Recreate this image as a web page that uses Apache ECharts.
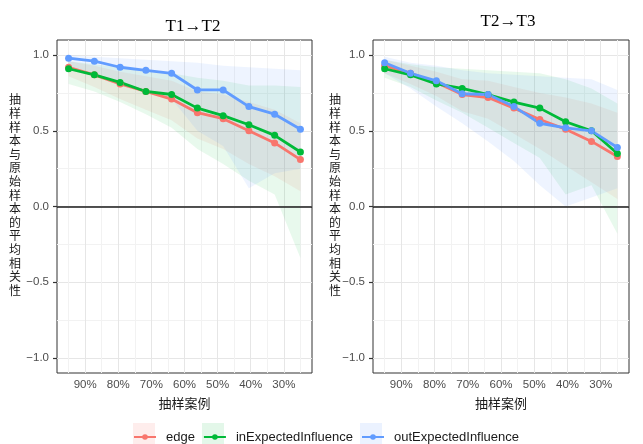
<!DOCTYPE html>
<html>
<head>
<meta charset="utf-8">
<script src="https://cdn.jsdelivr.net/npm/echarts@6/dist/echarts.min.js"></script>
<style>
html, body { margin: 0; padding: 0; background: #fff; }
#chart { width: 643px; height: 444px; }
</style>
</head>
<body>
<div id="chart"></div>
<script>
// sampled share of cases (x), in percent
const sampledPct = [95, 87.22, 79.44, 71.67, 63.89, 56.11, 48.33, 40.56, 32.78, 25];
const pctTicks = [90, 80, 70, 60, 50, 40, 30];
const pctMinor = [95, 85, 75, 65, 55, 45, 35, 25];
const corTicks = [-1, -0.5, 0, 0.5, 1];
const corMinor = [-0.75, -0.25, 0.25, 0.75];
const panelTitles = ['T1\u2192T2', 'T2\u2192T3'];
const xTitle = '抽样案例';
const yTitle = '抽样样本与原始样本的平均相关性';
const seriesNames = ['edge', 'inExpectedInfluence', 'outExpectedInfluence'];

// T1 -> T2
const edge1 = [0.92, 0.87, 0.81, 0.76, 0.71, 0.62, 0.58, 0.50, 0.42, 0.31];
const in1 = [0.91, 0.87, 0.82, 0.76, 0.74, 0.65, 0.60, 0.54, 0.47, 0.36];
const out1 = [0.98, 0.96, 0.92, 0.90, 0.88, 0.77, 0.77, 0.66, 0.61, 0.51];
const edge1Lo = [0.86, 0.79, 0.71, 0.64, 0.57, 0.45, 0.38, 0.28, 0.20, 0.10];
const edge1Hi = [0.96, 0.93, 0.89, 0.86, 0.83, 0.76, 0.74, 0.69, 0.64, 0.55];
const in1Lo = [0.81, 0.76, 0.69, 0.61, 0.52, 0.38, 0.28, 0.17, 0.08, -0.34];
const in1Hi = [0.96, 0.94, 0.92, 0.89, 0.88, 0.85, 0.83, 0.80, 0.80, 0.79];
const out1Lo = [0.93, 0.88, 0.82, 0.76, 0.71, 0.50, 0.40, 0.12, 0.22, 0.25];
const out1Hi = [1.00, 0.99, 0.98, 0.97, 0.96, 0.95, 0.93, 0.92, 0.91, 0.90];

// T2 -> T3
const edge2 = [0.93, 0.88, 0.82, 0.74, 0.72, 0.65, 0.575, 0.51, 0.43, 0.33];
const in2 = [0.91, 0.87, 0.81, 0.78, 0.74, 0.69, 0.65, 0.56, 0.50, 0.35];
const out2 = [0.95, 0.88, 0.83, 0.745, 0.74, 0.66, 0.55, 0.52, 0.50, 0.39];
const edge2Lo = [0.88, 0.81, 0.73, 0.63, 0.58, 0.48, 0.38, 0.27, 0.16, 0.05];
const edge2Hi = [0.97, 0.93, 0.89, 0.84, 0.83, 0.79, 0.75, 0.72, 0.68, 0.62];
const in2Lo = [0.85, 0.79, 0.70, 0.62, 0.52, 0.42, 0.32, 0.08, 0.14, -0.18];
const in2Hi = [0.97, 0.94, 0.92, 0.91, 0.90, 0.89, 0.88, 0.84, 0.78, 0.68];
const out2Lo = [0.88, 0.78, 0.66, 0.55, 0.43, 0.30, 0.14, 0.00, 0.06, 0.12];
const out2Hi = [0.99, 0.95, 0.93, 0.90, 0.88, 0.87, 0.86, 0.85, 0.84, 0.77];

const colors = ['#F8766D', '#00BA38', '#619CFF'];
const bandColors = ['rgba(248,118,109,0.11)', 'rgba(0,186,56,0.09)', 'rgba(97,156,255,0.11)'];
const sans = 'Liberation Sans, Arial, sans-serif';
const cjk = 'Noto Sans CJK SC, sans-serif';
const serif = 'Liberation Serif, Times New Roman, serif';

const chart = echarts.init(document.getElementById('chart'));

function ribbon(lo, hi, k, gi) {
  return {
    type: 'custom',
    xAxisIndex: gi * 2,
    yAxisIndex: gi * 2,
    silent: true,
    z: 1,
    data: [[sampledPct[0], hi[0]]],
    renderItem(params, api) {
      const top = sampledPct.map((x, i) => api.coord([x, hi[i]]));
      const bottom = sampledPct.map((x, i) => api.coord([x, lo[i]])).reverse();
      return {
        type: 'polygon',
        shape: { points: top.concat(bottom) },
        style: { fill: bandColors[k] }
      };
    }
  };
}

function line(vals, k, gi) {
  const s = {
    name: seriesNames[k],
    type: 'line',
    xAxisIndex: gi * 2,
    yAxisIndex: gi * 2,
    z: 3,
    data: sampledPct.map((x, i) => [x, vals[i]]),
    symbol: 'circle',
    symbolSize: 7,
    lineStyle: { width: 2.8, color: colors[k] },
    itemStyle: { color: colors[k] },
    emphasis: { disabled: true }
  };
  if (k === 0) {
    s.markLine = {
      silent: true,
      symbol: 'none',
      label: { show: false },
      lineStyle: { color: '#1a1a1a', width: 1.6, type: 'solid' },
      data: [{ yAxis: 0 }]
    };
  }
  return s;
}

function xAxes(gi) {
  return [{
    type: 'value', gridIndex: gi, min: 21.5, max: 98.5, inverse: true,
    axisLine: { show: false },
    axisTick: { show: false, customValues: pctTicks },
    axisLabel: {
      customValues: pctTicks, formatter: v => v + '%',
      color: '#4d4d4d', fontSize: 11.5, margin: 6, fontFamily: sans
    },
    splitLine: { show: true, lineStyle: { color: '#e6e6e6', width: 1 } },
    name: xTitle, nameLocation: 'middle', nameGap: 24,
    nameTextStyle: { color: '#1a1a1a', fontSize: 13, fontFamily: cjk }
  }, {
    type: 'value', gridIndex: gi, min: 21.5, max: 98.5, inverse: true,
    axisLine: { show: false },
    axisTick: { show: false, customValues: pctMinor },
    axisLabel: { show: false },
    splitLine: { show: true, lineStyle: { color: '#f2f2f2', width: 1 } }
  }];
}

function yAxes(gi) {
  return [{
    type: 'value', gridIndex: gi, min: -1.1, max: 1.1,
    axisLine: { show: false },
    axisTick: { show: true, length: 4, customValues: corTicks, lineStyle: { color: '#333', width: 1.2 } },
    axisLabel: {
      customValues: corTicks,
      formatter: v => (v < 0 ? '\u2212' : '') + Math.abs(v).toFixed(1),
      color: '#4d4d4d', fontSize: 11.5, margin: 8, fontFamily: sans
    },
    splitLine: { show: true, lineStyle: { color: '#e6e6e6', width: 1 } }
  }, {
    type: 'value', gridIndex: gi, min: -1.1, max: 1.1,
    axisLine: { show: false },
    axisTick: { show: false, customValues: corMinor },
    axisLabel: { show: false },
    splitLine: { show: true, lineStyle: { color: '#f2f2f2', width: 1 } }
  }];
}

// vertical (stacked) y-axis titles
function yTitleText(x) {
  return {
    type: 'text', x: x, y: 195, silent: true,
    style: {
      text: yTitle.split('').join('\n'),
      font: '12px ' + cjk, lineHeight: 13.6,
      fill: '#1a1a1a', align: 'center', verticalAlign: 'middle'
    }
  };
}

const option = {
  backgroundColor: '#fff',
  animation: false,
  title: [
    { text: panelTitles[0], left: 188, top: 13, textAlign: 'center',
      textStyle: { fontFamily: serif, fontWeight: 'normal', fontSize: 17, color: '#000' } },
    { text: panelTitles[1], left: 503, top: 8, textAlign: 'center',
      textStyle: { fontFamily: serif, fontWeight: 'normal', fontSize: 17, color: '#000' } }
  ],
  grid: [
    { left: 57, top: 40, width: 255, height: 333, show: true, borderColor: '#333', borderWidth: 1, backgroundColor: '#fff' },
    { left: 373, top: 40, width: 256, height: 333, show: true, borderColor: '#333', borderWidth: 1, backgroundColor: '#fff' }
  ],
  xAxis: xAxes(0).concat(xAxes(1)),
  yAxis: yAxes(0).concat(yAxes(1)),
  legend: {
    data: seriesNames,
    left: 133, top: 430.5, padding: 0,
    itemWidth: 22, itemHeight: 7, itemGap: 8,
    textStyle: { fontSize: 13, color: '#1a1a1a', fontFamily: sans, padding: [0, 0, 0, 5] },
    selectedMode: false
  },
  graphic: [
    yTitleText(15),
    yTitleText(335),
    { type: 'rect', left: 133, top: 423, z: -1, shape: { width: 22, height: 22 }, style: { fill: 'rgba(248,118,109,0.13)' } },
    { type: 'rect', left: 202, top: 423, z: -1, shape: { width: 22, height: 22 }, style: { fill: 'rgba(0,186,56,0.11)' } },
    { type: 'rect', left: 360, top: 423, z: -1, shape: { width: 22, height: 22 }, style: { fill: 'rgba(97,156,255,0.13)' } }
  ],
  series: [
    ribbon(edge1Lo, edge1Hi, 0, 0),
    ribbon(in1Lo, in1Hi, 1, 0),
    ribbon(out1Lo, out1Hi, 2, 0),
    line(edge1, 0, 0),
    line(in1, 1, 0),
    line(out1, 2, 0),
    ribbon(edge2Lo, edge2Hi, 0, 1),
    ribbon(in2Lo, in2Hi, 1, 1),
    ribbon(out2Lo, out2Hi, 2, 1),
    line(edge2, 0, 1),
    line(in2, 1, 1),
    line(out2, 2, 1)
  ]
};

chart.setOption(option);
</script>
</body>
</html>
